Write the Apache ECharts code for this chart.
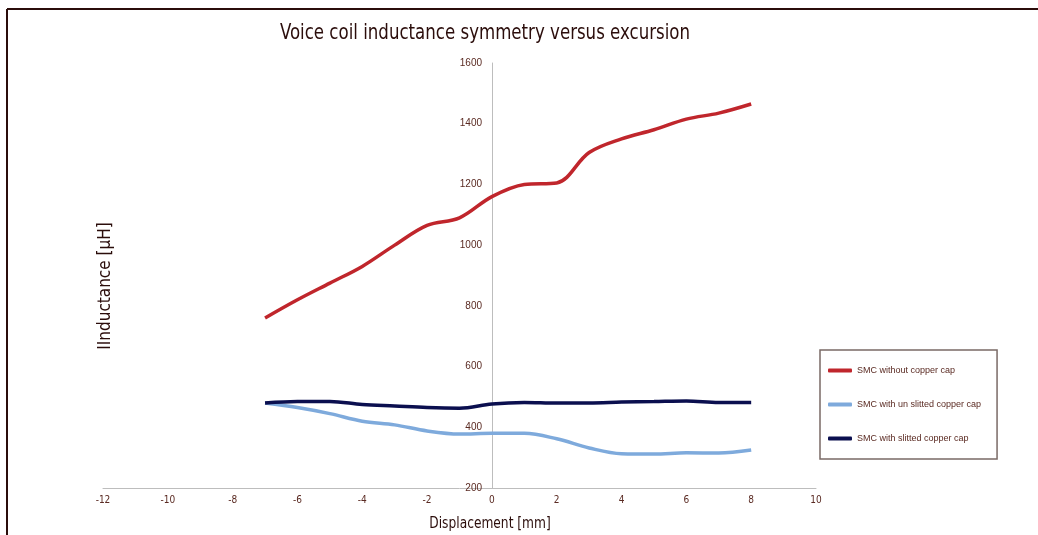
<!DOCTYPE html>
<html>
<head>
<meta charset="utf-8">
<script src="https://cdn.jsdelivr.net/npm/echarts@6/dist/echarts.min.js"></script>
<style>
  html, body { margin: 0; padding: 0; background: #fff; }
  #chart { width: 1038px; height: 535px; }
</style>
</head>
<body>
<div id="chart"></div>
<script>
// displacement points [mm]
const displacement = [-7, -6, -5, -4, -3, -2, -1, 0, 1, 2, 3, 4, 5, 6, 7, 8]

// inductance [µH]
const noCap = [760, 820, 875, 930, 1000, 1065, 1090, 1160, 1200, 1205, 1305, 1350, 1380, 1415, 1435, 1465]
const unslittedCap = [480, 465, 445, 420, 408, 388, 378, 380, 380, 362, 332, 313, 312, 316, 315, 325]
const slittedCap = [480, 485, 485, 475, 470, 465, 463, 477, 482, 480, 480, 483, 485, 487, 482, 482]

const seriesNames = ['SMC without copper cap', 'SMC with un slitted copper cap', 'SMC with slitted copper cap']
const seriesColors = ['#c0262c', '#7eaadc', '#0b0f4f']

const pairs = (ys) => displacement.map((x, i) => [x, ys[i]])

const brown = '#2b0d0b'
const labelBrown = '#5a2a22'
const narrow = '"DejaVu Sans Condensed", "Liberation Sans Narrow", "Liberation Sans", sans-serif'

const chart = echarts.init(document.getElementById('chart'))

const lineSeries = (name, ys, color) => ({
  name: name,
  type: 'line',
  data: pairs(ys),
  smooth: 0.35,
  symbol: 'none',
  lineStyle: { color: color, width: 3.5 },
  itemStyle: { color: color }
})

chart.setOption({
  animation: false,
  legend: {
    orient: 'vertical',
    left: 820,
    top: 350,
    padding: [16, 16, 16, 8],
    itemGap: 25,
    itemWidth: 24,
    itemHeight: 4,
    borderColor: '#7a6a66',
    borderWidth: 1.5,
    textStyle: { fontFamily: 'Liberation Sans', fontSize: 9, color: labelBrown },
    data: seriesNames.map((n) => ({ name: n, icon: 'roundRect' }))
  },
  grid: {
    left: 103,
    right: 222,
    top: 63,
    bottom: 47
  },
  xAxis: {
    type: 'value',
    min: -12,
    max: 10,
    interval: 2,
    splitLine: { show: false },
    axisTick: { show: false },
    axisLine: { lineStyle: { color: '#bdbdbd', width: 1 } },
    axisLabel: {
      margin: 7,
      fontFamily: narrow,
      fontSize: 10,
      color: labelBrown
    }
  },
  yAxis: {
    type: 'value',
    min: 200,
    max: 1600,
    interval: 200,
    position: 'left',
    offset: -389,
    splitLine: { show: false },
    axisTick: { show: false },
    axisLine: { show: true, onZero: false, lineStyle: { color: '#bdbdbd', width: 1 } },
    axisLabel: {
      margin: 10,
      fontFamily: 'Liberation Sans',
      fontSize: 10,
      color: labelBrown,
      formatter: (v) => String(v)
    }
  },
  graphic: [
    // frame, only top and left edges are in view
    { type: 'line', shape: { x1: 7, y1: 9, x2: 1038, y2: 9 }, style: { stroke: brown, lineWidth: 2 } },
    { type: 'line', shape: { x1: 7, y1: 9, x2: 7, y2: 535 }, style: { stroke: brown, lineWidth: 2 } },
    {
      type: 'text',
      x: 485, y: 33,
      scaleX: 0.84,
      style: {
        text: 'Voice coil inductance symmetry versus excursion',
        textAlign: 'center', textVerticalAlign: 'middle',
        fontFamily: narrow, fontSize: 22, fill: brown
      }
    },
    {
      type: 'text',
      x: 490, y: 524,
      scaleX: 0.85,
      style: {
        text: 'Displacement [mm]',
        textAlign: 'center', textVerticalAlign: 'middle',
        fontFamily: narrow, fontSize: 16, fill: brown
      }
    },
    {
      type: 'text',
      x: 106, y: 286,
      rotation: Math.PI / 2,
      style: {
        text: 'IInductance [µH]',
        textAlign: 'center', textVerticalAlign: 'middle',
        fontFamily: narrow, fontSize: 17, fill: brown
      }
    }
  ],
  series: seriesNames.map((n, i) => lineSeries(n, [noCap, unslittedCap, slittedCap][i], seriesColors[i]))
})
</script>
</body>
</html>
